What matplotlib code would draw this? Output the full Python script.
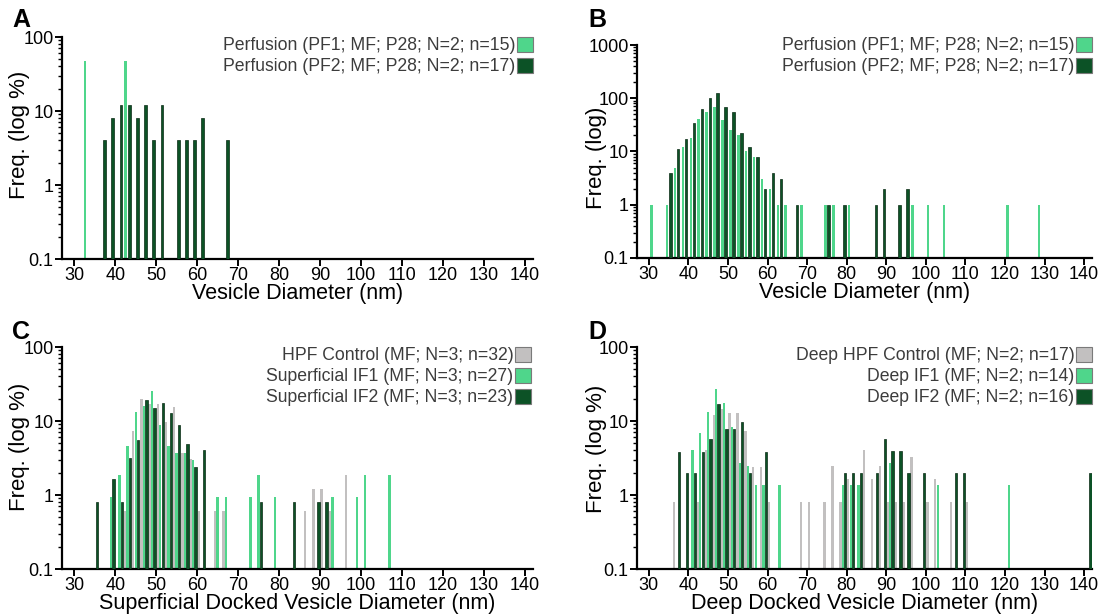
import matplotlib
matplotlib.use('Agg')
import matplotlib.pyplot as plt
from matplotlib.patches import Patch
from matplotlib.ticker import LogLocator, FixedLocator, NullFormatter

plt.rcParams['font.family'] = ['Liberation Sans', 'DejaVu Sans']

# --- Data (bin centres in nm, frequencies) ---
# Panel A
A_PF1_X = [33, 43]
A_PF1_Y = [47, 47]
A_PF2_X = [37, 39, 41, 43, 45, 47, 49, 51, 55, 57, 59, 61, 67]
A_PF2_Y = [4, 8, 12, 12, 8, 12, 4, 12, 4, 4, 4, 8, 4]

# Panel B
B_PF1_X = [31, 35, 37, 39, 41, 43, 45, 47, 49, 51, 53, 55, 57, 59, 61, 63, 65,
           69, 75, 77, 81, 97, 101, 105, 121, 129]
B_PF1_Y = [1, 1, 5, 12, 18, 40, 56, 68, 39, 25, 20, 10, 8, 3, 2, 1, 1,
           1, 1, 1, 1, 1, 1, 1, 1, 1]
B_PF2_X = [35, 37, 39, 41, 43, 45, 47, 49, 51, 53, 55, 57, 59, 61, 63, 67,
           75, 79, 87, 89, 93, 95]
B_PF2_Y = [4, 11, 17, 34, 64, 100, 128, 68, 56, 22, 12, 8, 2, 4, 3, 1,
           1, 1, 1, 2, 1, 2]

# Panel C
C_CTRL_X = [43, 45, 47, 49, 51, 53, 55, 57, 59, 61, 65, 67, 87, 89, 91, 93, 97]
C_CTRL_Y = [0.6, 7.3, 20, 17, 17, 9.6, 15.6, 3.7, 3.1, 0.6, 0.6, 0.6,
            0.6, 1.2, 1.2, 0.6, 1.86]
C_IF1_X = [39, 41, 43, 45, 47, 49, 51, 53, 55, 57, 59, 65, 67, 73, 75, 79,
           93, 99, 101, 107]
C_IF1_Y = [0.93, 1.86, 4.6, 13.3, 16, 25.7, 8.8, 4.6, 3.7, 3.7, 3.0, 0.93, 0.93,
           0.93, 1.86, 0.93, 0.93, 0.93, 1.86, 1.86]
C_IF2_X = [35, 39, 41, 43, 45, 47, 49, 51, 53, 55, 57, 59, 61, 75, 83, 89, 91]
C_IF2_Y = [0.8, 1.65, 0.81, 3.2, 5.6, 19, 15, 17.5, 12.7, 8.8, 4.9, 2.4, 4.0,
           0.81, 0.81, 0.81, 0.81]

# Panel D
D_CTRL_X = [37, 43, 45, 47, 49, 51, 53, 55, 57, 59, 61, 69, 71, 75, 77, 79, 81,
            85, 87, 89, 91, 93, 95, 97, 101, 103, 107, 111]
D_CTRL_Y = [0.81, 0.81, 4.1, 12, 14.5, 13, 12.7, 7.3, 2.4, 2.4, 0.81, 0.81, 0.81,
            0.81, 2.46, 0.81, 1.63, 4.06, 1.63, 2.46, 0.81, 0.81, 0.81, 3.3,
            0.81, 1.63, 0.81, 0.81]
D_IF1_X = [41, 43, 45, 47, 49, 51, 53, 55, 57, 59, 63, 79, 81, 83, 91, 103, 121]
D_IF1_Y = [4.1, 6.8, 13.4, 26.8, 17.5, 8.2, 2.7, 2.5, 1.35, 1.35, 1.35, 1.36,
           1.36, 1.36, 2.73, 1.36, 1.36]
D_IF2_X = [37, 39, 41, 43, 45, 47, 49, 51, 53, 55, 59, 79, 81, 83, 87, 89, 91,
           93, 95, 99, 107, 109, 141]
D_IF2_Y = [3.85, 1.96, 1.96, 3.85, 5.7, 17, 7.8, 7.8, 9.7, 1.96, 3.85, 1.96,
           1.96, 1.96, 1.96, 5.8, 3.93, 3.93, 1.96, 1.96, 1.96, 1.96, 1.96]

X_TICKS = list(range(30, 141, 10))

# --- Styling ---
LIGHT = '#4fd68b'
DARK = '#0c5226'
EDGE = '#0a2a14'
GRAY = '#c2c0c0'
TEXT_GRAY = '#3c3c3c'
W, H = 1107, 615


def style_axis(ax, ymax, xlabel, ylabel, ylab_x, ylab_y):
    ax.set_yscale('log')
    ax.set_ylim(0.1, ymax)
    ax.set_xlim(27, 142)
    for s in ['top', 'right']:
        ax.spines[s].set_visible(False)
    for s in ['left', 'bottom']:
        ax.spines[s].set_linewidth(1.6)
    ax.xaxis.set_major_locator(FixedLocator(X_TICKS))
    ax.set_xticklabels([str(t) for t in X_TICKS])
    yt = [10 ** k for k in range(-1, 4) if 10 ** k <= ymax * 1.001]
    ax.yaxis.set_major_locator(FixedLocator(yt))
    ax.set_yticklabels(['0.1' if t < 1 else str(int(t)) for t in yt])
    ax.yaxis.set_minor_locator(LogLocator(base=10, subs=range(2, 10)))
    ax.yaxis.set_minor_formatter(NullFormatter())
    ax.tick_params(axis='both', which='major', direction='out', length=5,
                   width=1.4, labelsize=13, pad=1)
    ax.tick_params(axis='y', which='minor', length=3, width=1)
    ax.set_xlabel(xlabel, fontsize=15.5, labelpad=-1)
    ax.set_ylabel(ylabel, fontsize=16)
    ax.yaxis.set_label_coords(ylab_x, ylab_y)


def add_legend(ax, labels, colors, right_px, top_px):
    handles = [Patch(facecolor=c, edgecolor='#7a7a7a', linewidth=0.8) for c in colors]
    ax.legend(handles, labels, loc='upper right', markerfirst=False, frameon=False,
              bbox_to_anchor=(right_px / W, 1 - top_px / H),
              bbox_transform=ax.figure.transFigure, borderaxespad=0, borderpad=0,
              handlelength=0.9, handleheight=0.9, handletextpad=0.1,
              labelspacing=0.2, fontsize=12.7, labelcolor=TEXT_GRAY)


fig = plt.figure(figsize=(W / 100, H / 100), dpi=100)

axA = fig.add_axes([62 / W, 1 - 259 / H, 471 / W, 222 / H])
axB = fig.add_axes([637 / W, 1 - 258 / H, 455 / W, 213 / H])
axC = fig.add_axes([62 / W, 1 - 569 / H, 471 / W, 222 / H])
axD = fig.add_axes([637 / W, 1 - 569 / H, 455 / W, 222 / H])

# A
axA.bar([x - 0.4 for x in A_PF1_X], A_PF1_Y, width=0.7, color=LIGHT, zorder=2)
axA.bar([x + 0.4 for x in A_PF2_X], A_PF2_Y, width=0.7, color=DARK,
        edgecolor=EDGE, linewidth=0.5, zorder=3)
style_axis(axA, 100, 'Vesicle Diameter (nm)', 'Freq. (log %)', -0.068, 0.56)
add_legend(axA, ['Perfusion (PF1; MF; P28; N=2; n=15)',
                 'Perfusion (PF2; MF; P28; N=2; n=17)'],
           [LIGHT, DARK], 533, 37)

# B
axB.bar([x - 0.4 for x in B_PF1_X], B_PF1_Y, width=0.65, color=LIGHT, zorder=2)
axB.bar([x + 0.4 for x in B_PF2_X], B_PF2_Y, width=0.65, color=DARK,
        edgecolor=EDGE, linewidth=0.5, zorder=3)
style_axis(axB, 1000, 'Vesicle Diameter (nm)', 'Freq. (log)', -0.066, 0.47)
add_legend(axB, ['Perfusion (PF1; MF; P28; N=2; n=15)',
                 'Perfusion (PF2; MF; P28; N=2; n=17)'],
           [LIGHT, DARK], 1092, 37)

# C
axC.bar([x - 0.6 for x in C_CTRL_X], C_CTRL_Y, width=0.58, color=GRAY, zorder=1)
axC.bar(C_IF1_X, C_IF1_Y, width=0.58, color=LIGHT, zorder=2)
axC.bar([x + 0.6 for x in C_IF2_X], C_IF2_Y, width=0.58, color=DARK,
        edgecolor=EDGE, linewidth=0.5, zorder=3)
style_axis(axC, 100, 'Superficial Docked Vesicle Diameter (nm)', 'Freq. (log %)',
           -0.068, 0.55)
add_legend(axC, ['HPF Control (MF; N=3; n=32)',
                 'Superficial IF1 (MF; N=3; n=27)',
                 'Superficial IF2 (MF; N=3; n=23)'],
           [GRAY, LIGHT, DARK], 531, 347)

# D
axD.bar([x - 0.6 for x in D_CTRL_X], D_CTRL_Y, width=0.58, color=GRAY, zorder=1)
axD.bar(D_IF1_X, D_IF1_Y, width=0.58, color=LIGHT, zorder=2)
axD.bar([x + 0.6 for x in D_IF2_X], D_IF2_Y, width=0.58, color=DARK,
        edgecolor=EDGE, linewidth=0.5, zorder=3)
style_axis(axD, 100, 'Deep Docked Vesicle Diameter (nm)', 'Freq. (log %)',
           -0.066, 0.54)
add_legend(axD, ['Deep HPF Control (MF; N=2; n=17)',
                 'Deep IF1 (MF; N=2; n=14)',
                 'Deep IF2 (MF; N=2; n=16)'],
           [GRAY, LIGHT, DARK], 1092, 347)

# Panel letters
for letter, xp, yp in [('A', 12, 8), ('B', 588, 8), ('C', 12, 320), ('D', 588, 320)]:
    fig.text(xp / W, 1 - yp / H, letter, fontsize=18, fontweight='bold',
             ha='left', va='top')

fig.savefig('out.png', dpi=100)
